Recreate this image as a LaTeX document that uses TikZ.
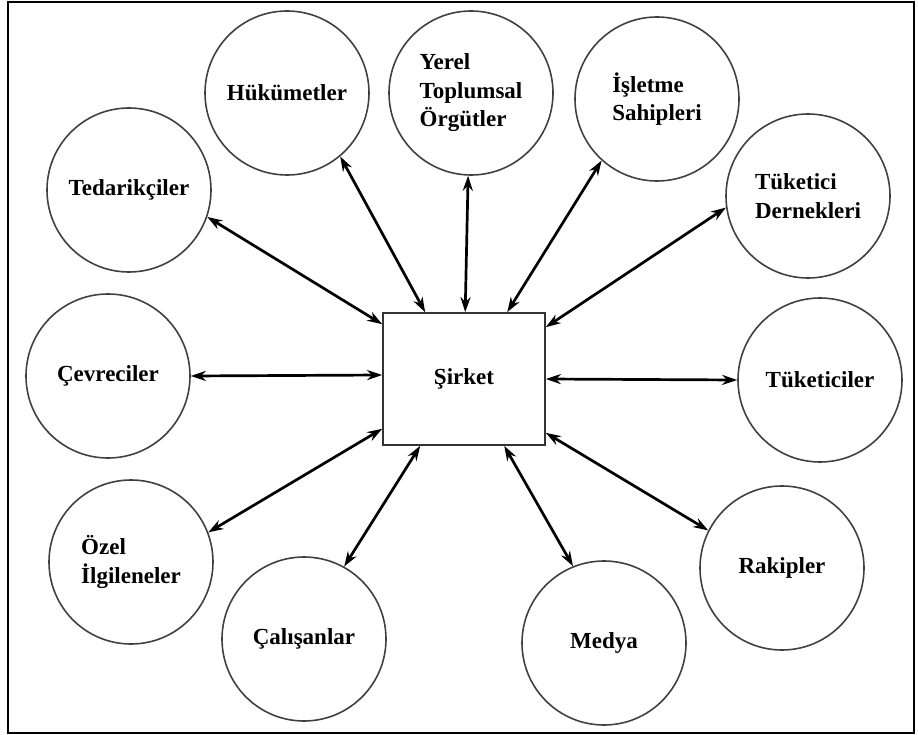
\documentclass[tikz,border=0pt]{standalone}
\usepackage{fontspec}
\setmainfont{Liberation Serif}
\usetikzlibrary{arrows.meta}
\begin{document}
\begin{tikzpicture}[x=1pt,y=1pt,
  party/.style={circle,draw=black!75,line width=1.6pt,minimum size=164pt,inner sep=0pt,
    align=left,font=\bfseries\fontsize{23}{28.5}\selectfont},
  firm/.style={rectangle,draw=black!80,line width=1.6pt,minimum width=162pt,minimum height=132pt,
    font=\bfseries\fontsize{23}{28.5}\selectfont},
  link/.style={line width=2.7pt,{Stealth[length=15pt,width=10pt]}-{Stealth[length=15pt,width=10pt]}}]
\useasboundingbox (0,0) rectangle (918,-735);
\draw[line width=2.6pt] (8,-2) rectangle (914,-733);

\node[firm] (sirket) at (464,-379) {Şirket};

\node[party] (ted) at (129,-190) {Tedarikçiler};
\node[party] (huk) at (287,-93) {Hükümetler};
\node[party] (yer) at (471,-93) {Yerel\\Toplumsal\\Örgütler};
\node[party] (isl) at (657,-99) {İşletme\\Sahipleri};
\node[party] (tde) at (808,-196) {Tüketici\\Dernekleri};
\node[party] (cev) at (108,-376) {Çevreciler};
\node[party] (tuk) at (820,-380) {Tüketiciler};
\node[party] (oze) at (131,-562) {Özel\\İlgileneler};
\node[party] (cal) at (304,-639) {Çalışanlar};
\node[party] (med) at (604,-643) {Medya};
\node[party] (rak) at (782,-568) {Rakipler};

\draw[link] (ted.-19) -- ([yshift=-12pt]sirket.north west);
\draw[link] (huk.-50) -- ([xshift=43pt]sirket.north west);
\draw[link] (yer.-92) -- ([xshift=83pt]sirket.north west);
\draw[link] (isl.-132) -- ([xshift=125pt]sirket.north west);
\draw[link] (tde.188) -- ([yshift=-15pt]sirket.north east);
\draw[link] (cev.0) -- ([yshift=4pt]sirket.west);
\draw[link] (tuk.180) -- (sirket.east);
\draw[link] (oze.21) -- ([yshift=17pt]sirket.south west);
\draw[link] (cal.61) -- ([xshift=38pt]sirket.south west);
\draw[link] (med.112) -- ([xshift=122pt]sirket.south west);
\draw[link] (rak.153) -- ([yshift=13pt]sirket.south east);
\end{tikzpicture}
\end{document}
